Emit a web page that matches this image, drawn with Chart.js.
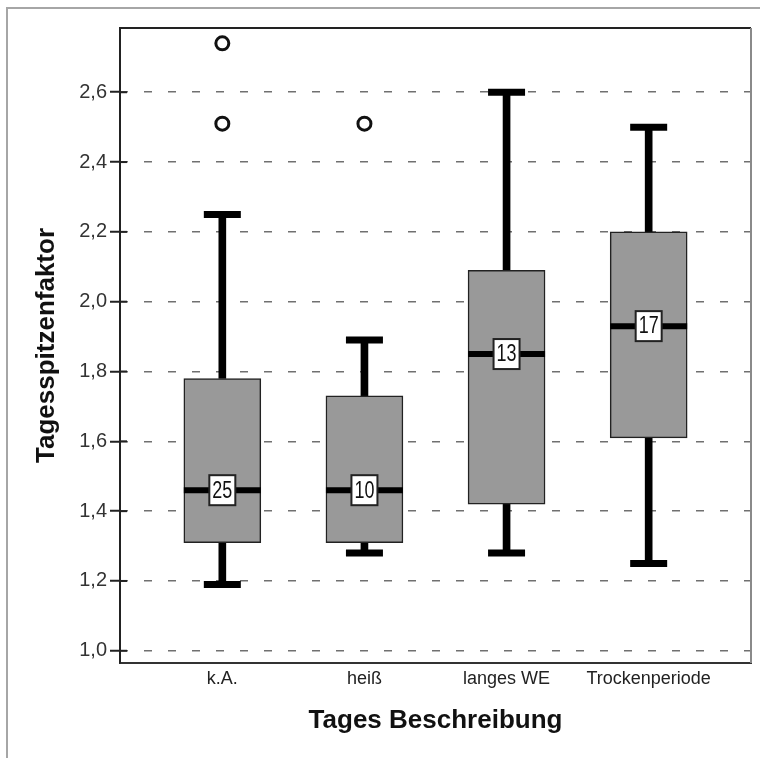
<!DOCTYPE html>
<html>
<head>
<meta charset="utf-8">
<script src="https://cdn.jsdelivr.net/npm/chart.js@4.4.0/dist/chart.umd.min.js"></script>
<style>
  html, body { margin: 0; padding: 0; background: #fff; }
</style>
</head>
<body>
<canvas id="chart" width="760" height="758"></canvas>
<script>
// boxplot numbers
const categories = ['k.A.', 'heiß', 'langes WE', 'Trockenperiode'];
const whiskerLow  = [1.19, 1.28, 1.28, 1.25];
const q1          = [1.31, 1.31, 1.42, 1.61];
const median      = [1.46, 1.46, 1.85, 1.93];
const q3          = [1.78, 1.73, 2.09, 2.20];
const whiskerHigh = [2.25, 1.89, 2.60, 2.50];
const counts      = [25, 10, 13, 17];
const outlierCat  = [1, 1, 2];
const outlierVal  = [2.74, 2.51, 2.51];
const yTicks      = [1.0, 1.2, 1.4, 1.6, 1.8, 2.0, 2.2, 2.4, 2.6];

const pos = categories.map((c, i) => i + 1);
const font = "'Liberation Sans', Arial, sans-serif";

// outer frame, plot frame top/right, inner part of the y ticks
const framePlugin = {
  id: 'frame',
  beforeDraw(chart) {
    const ctx = chart.ctx;
    ctx.save();
    ctx.fillStyle = '#fff';
    ctx.fillRect(0, 0, chart.width, chart.height);
    ctx.strokeStyle = '#a6a6a6';
    ctx.lineWidth = 2;
    ctx.beginPath();
    ctx.moveTo(7, chart.height);
    ctx.lineTo(7, 8);
    ctx.lineTo(chart.width, 8);
    ctx.stroke();
    ctx.restore();
  },
  afterDraw(chart) {
    const ctx = chart.ctx;
    const a = chart.chartArea;
    const ys = chart.scales.y;
    ctx.save();
    ctx.lineWidth = 2;
    ctx.strokeStyle = '#222';
    ctx.beginPath();
    ctx.moveTo(a.left, a.top);
    ctx.lineTo(a.right, a.top);
    ctx.stroke();
    ctx.strokeStyle = '#8a8a8a';
    ctx.beginPath();
    ctx.moveTo(a.right, a.top);
    ctx.lineTo(a.right, a.bottom);
    ctx.stroke();
    ctx.strokeStyle = '#222';
    ys.ticks.forEach(t => {
      const y = ys.getPixelForValue(t.value);
      ctx.beginPath();
      ctx.moveTo(a.left, y);
      ctx.lineTo(a.left + 7, y);
      ctx.stroke();
    });
    ctx.restore();
  }
};

// n-labels sitting on the median lines
const countPlugin = {
  id: 'counts',
  afterDatasetsDraw(chart) {
    const meta = chart.getDatasetMeta(3);
    const ctx = chart.ctx;
    meta.data.forEach((pt, i) => {
      const w = 26, h = 30;
      ctx.save();
      ctx.fillStyle = '#fff';
      ctx.fillRect(pt.x - w / 2, pt.y - h / 2, w, h);
      ctx.strokeStyle = '#222';
      ctx.lineWidth = 2;
      ctx.strokeRect(pt.x - w / 2, pt.y - h / 2, w, h);
      // narrow digits like the original
      ctx.translate(pt.x, pt.y + 1);
      ctx.scale(0.78, 1);
      ctx.fillStyle = '#111';
      ctx.font = '23px ' + font;
      ctx.textAlign = 'center';
      ctx.textBaseline = 'middle';
      ctx.fillText(String(counts[i]), 0, 0);
      ctx.restore();
    });
  }
};

new Chart(document.getElementById('chart'), {
  type: 'bar',
  data: {
    datasets: [
      {
        // box from q1 to q3
        type: 'bar',
        data: pos.map((x, i) => ({ x: x, y: [q1[i], q3[i]] })),
        backgroundColor: '#999999',
        borderColor: '#222',
        borderWidth: 1.5,
        borderSkipped: false,
        barThickness: 77,
        grouped: false,
        order: 4
      },
      {
        // whisker stems
        type: 'bar',
        data: pos.map((x, i) => ({ x: x, y: [whiskerLow[i], q1[i]] }))
          .concat(pos.map((x, i) => ({ x: x, y: [q3[i], whiskerHigh[i]] }))),
        backgroundColor: '#000',
        borderWidth: 0,
        barThickness: 7,
        grouped: false,
        order: 5
      },
      {
        // whisker caps
        type: 'scatter',
        data: pos.map((x, i) => ({ x: x, y: whiskerLow[i] }))
          .concat(pos.map((x, i) => ({ x: x, y: whiskerHigh[i] }))),
        pointStyle: 'line',
        pointRadius: 18.5,
        borderWidth: 7,
        borderColor: '#000',
        order: 3
      },
      {
        // medians
        type: 'scatter',
        data: pos.map((x, i) => ({ x: x, y: median[i] })),
        pointStyle: 'line',
        pointRadius: 38.5,
        borderWidth: 6,
        borderColor: '#000',
        order: 2
      },
      {
        // outliers
        type: 'scatter',
        data: outlierCat.map((c, i) => ({ x: c, y: outlierVal[i] })),
        pointStyle: 'circle',
        pointRadius: 6.5,
        borderWidth: 3,
        borderColor: '#111',
        backgroundColor: '#fff',
        order: 1
      }
    ]
  },
  options: {
    responsive: false,
    animation: false,
    devicePixelRatio: 1,
    layout: { autoPadding: false, padding: { left: 10, top: 28, right: 9, bottom: 0 } },
    plugins: {
      legend: { display: false },
      tooltip: { enabled: false }
    },
    scales: {
      x: {
        type: 'linear',
        min: 0.28,
        max: 4.72,
        offset: false,
        afterBuildTicks: s => { s.ticks = pos.map(v => ({ value: v })); },
        afterFit: s => { s.height = 95; },
        ticks: {
          callback: v => categories[v - 1],
          font: { family: font, size: 18 },
          color: '#222',
          padding: 5,
          maxRotation: 0,
          autoSkip: false
        },
        grid: { display: false, drawTicks: false },
        border: { display: true, color: '#333', width: 2 },
        title: {
          display: true,
          text: 'Tages Beschreibung',
          font: { family: font, size: 26, weight: 'bold' },
          color: '#111',
          padding: { top: 0, bottom: 22 }
        }
      },
      y: {
        type: 'linear',
        min: 0.965,
        max: 2.784,
        beginAtZero: false,
        afterBuildTicks: s => { s.ticks = yTicks.map(v => ({ value: v })); },
        afterFit: s => { s.width = 110; },
        ticks: {
          callback: v => v.toFixed(1).replace('.', ','),
          font: { family: font, size: 20 },
          color: '#333',
          padding: 3
        },
        grid: {
          color: '#707070',
          lineWidth: 1.5,
          tickLength: 10,
          tickColor: '#222',
          tickWidth: 2,
          tickBorderDash: []
        },
        border: { display: true, color: '#222', width: 2, dash: [8, 16], dashOffset: 1 },
        title: {
          display: true,
          text: 'Tagesspitzenfaktor',
          font: { family: font, size: 26, weight: 'bold' },
          color: '#111',
          padding: { top: 21, bottom: 0 }
        }
      }
    }
  },
  plugins: [framePlugin, countPlugin]
});
</script>
</body>
</html>
